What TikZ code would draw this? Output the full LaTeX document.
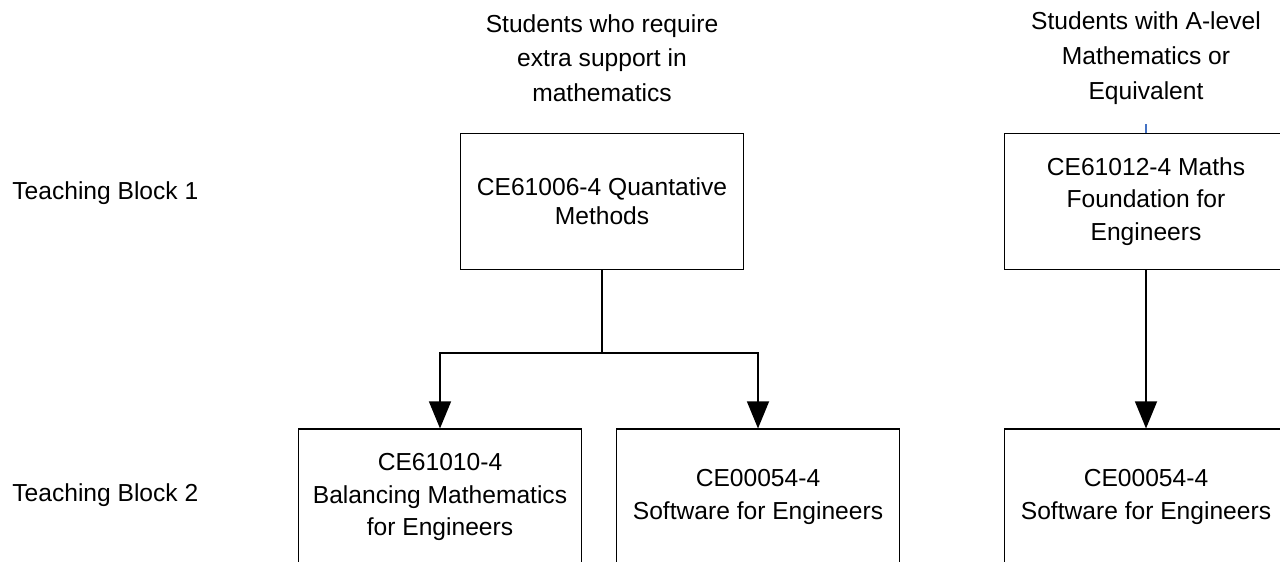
\documentclass[tikz,border=0pt]{standalone}
\usepackage{fontspec}
\setmainfont{Liberation Sans}
\usetikzlibrary{arrows.meta,positioning}
\definecolor{stub}{RGB}{68,114,196}

\begin{document}
\begin{tikzpicture}[x=.02cm,y=-.02cm,font=\fontsize{14}{18.7}\selectfont,
  module/.style={draw,line width=.6pt,minimum width=5.66cm,minimum height=2.72cm,align=center,inner sep=0pt},
  group/.style={align=center,font=\fontsize{14}{19.8}\selectfont},
  link/.style={line width=1.1pt},
  tip/.style={-{Triangle[length=15.5pt,width=12.5pt]}}]
  \useasboundingbox (0,0) rectangle (1280,561);
  \clip (0,0) rectangle (1280,561);
  % entry groups
  \node[group] (needs) at (602,58) {Students who require\\extra support in\\mathematics};
  \node[group] (alevel) at (1146,58) {Students with A-level\\Mathematics or\\Equivalent};
  \node[anchor=west,inner sep=0pt] (tb1) at (12,193) {Teaching Block 1};
  \node[anchor=west,inner sep=0pt] (tb2) at (12,495) {Teaching Block 2};
  % teaching block 1
  \node[module,font=\fontsize{14}{16.4}\selectfont] (qm) at (602,201.5) {CE61006-4 Quantative\\Methods};
  \node[module] (mf) at (1146,201.5) {CE61012-4 Maths\\Foundation for\\Engineers};
  % teaching block 2
  \node[module] (bm) at (440,497) {CE61010-4\\Balancing Mathematics\\for Engineers};
  \node[module] (sw) at (758,497) {CE00054-4\\Software for Engineers};
  \node[module] (sw2) at (1146,497) {CE00054-4\\Software for Engineers};
  % connectors
  \draw[link] (qm.south) -- ++(0,83) coordinate (fork);
  \foreach \t in {bm,sw} \draw[link,tip] (fork) -| (\t.north);
  \draw[link,tip] (mf.south) -- (sw2.north);
  \draw[stub,line width=.6pt] (mf.north) -- ++(0,-9);
\end{tikzpicture}
\end{document}
